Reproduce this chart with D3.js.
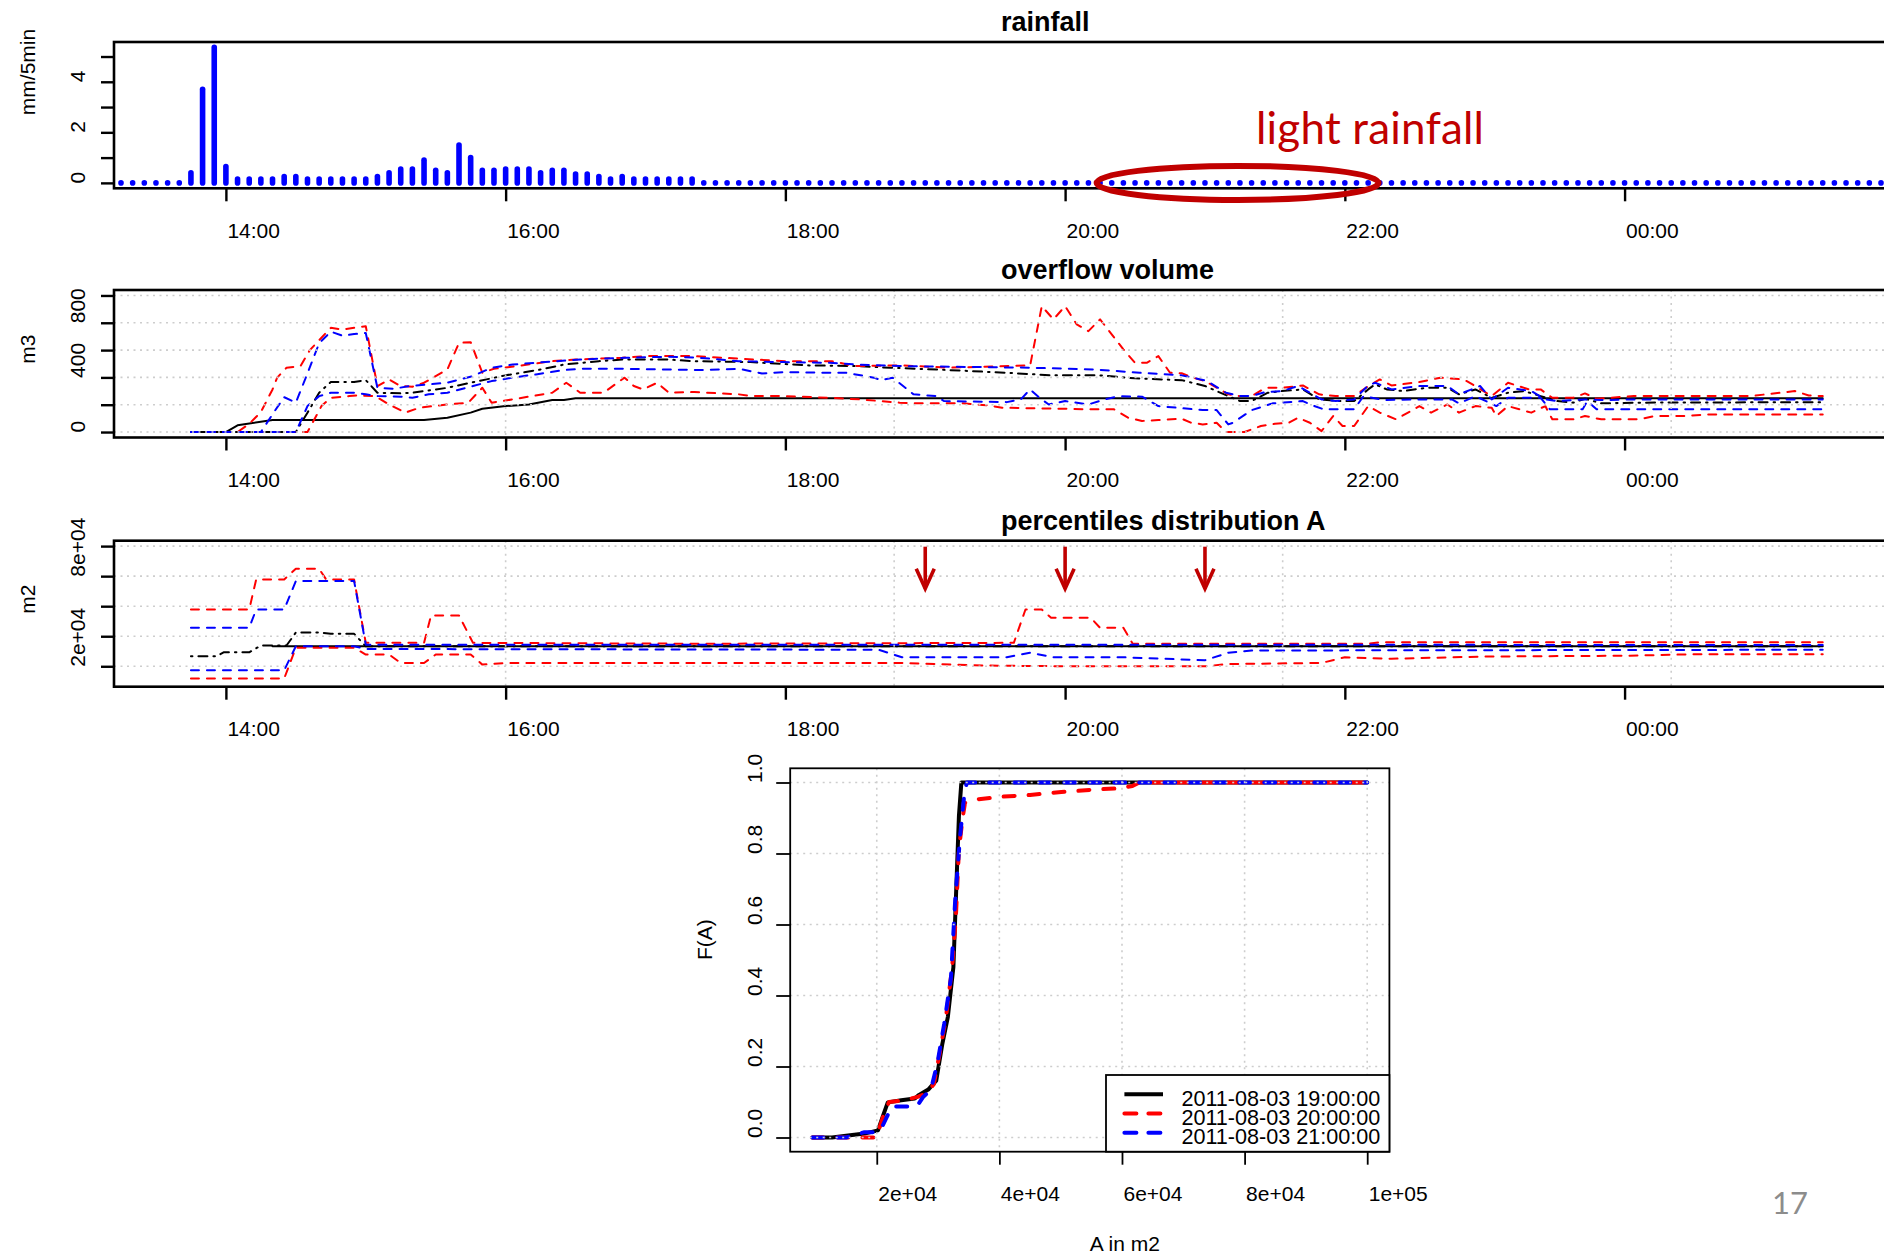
<!DOCTYPE html>
<html>
<head>
<meta charset="utf-8">
<title>Overflow analysis 2011-08-03</title>
<script src="https://cdn.jsdelivr.net/npm/d3@7/dist/d3.min.js"></script>
<style>
  html, body { margin: 0; padding: 0; background: #fff; }
  svg { display: block; }
</style>
</head>
<body>
<svg id="chart" width="1884" height="1257"></svg>
<script>
// ---------------- data ----------------
// rainfall, mm per 5 minutes, first interval at 13:15
const rainStart = "13:15";
const rainfall = [
  0, 0, 0, 0, 0, 0, 0.4, 3.7, 5.36,                                  // 13:15-13:55
  0.65, 0.15, 0.15, 0.15, 0.15, 0.25, 0.25, 0.15, 0.15, 0.15, 0.15, 0.15, // 14:00
  0.15, 0.25, 0.4, 0.55, 0.55, 0.9, 0.5, 0.4, 1.5, 1.0, 0.5, 0.5,        // 15:00
  0.55, 0.55, 0.55, 0.4, 0.5, 0.5, 0.35, 0.35, 0.25, 0.15, 0.25, 0.15,   // 16:00
  0.15, 0.15, 0.15, 0.15, 0.15, 0, 0, 0, 0, 0, 0, 0,                     // 17:00
  0, 0, 0, 0, 0, 0, 0, 0, 0, 0, 0, 0,                                    // 18:00
  0, 0, 0, 0, 0, 0, 0, 0, 0, 0, 0, 0,                                    // 19:00
  0, 0, 0, 0, 0, 0, 0, 0, 0, 0, 0, 0,                                    // 20:00
  0, 0, 0, 0, 0, 0, 0, 0, 0, 0, 0, 0,                                    // 21:00
  0, 0, 0, 0, 0, 0, 0, 0, 0, 0, 0, 0,                                    // 22:00
  0, 0, 0, 0, 0, 0, 0, 0, 0, 0, 0, 0,                                    // 23:00
  0, 0, 0, 0, 0, 0, 0, 0, 0, 0, 0, 0,                                    // 00:00
  0, 0, 0, 0, 0, 0, 0, 0, 0, 0, 0                                        // 01:00-01:50
];

const timeTicks = ["14:00", "16:00", "18:00", "20:00", "22:00", "00:00"];

// overflow volume (m3): [time, value]
const volBlackSolid = [
  ["13:45",0],["14:00",0],["14:05",49],["14:20",88],["15:25",88],["15:35",105],["15:45",142],
  ["15:50",171],["16:00",190],["16:10",202],["16:20",234],["16:25",234],["16:30",248],["01:25",248]
];
const volBlackDashDot = [
  ["13:45",0],["14:30",0],["14:35",142],["14:40",288],["14:45",366],["14:55",366],["15:00",380],
  ["15:05",288],["15:15",283],["15:20",288],["15:35",324],["15:45",361],["16:00",415],["16:15",458],
  ["16:25",494],["16:40",519],["16:50",531],["17:10",531],["17:20",519],["17:45",512],["18:10",488],
  ["18:30",483],["18:45",471],["19:10",454],["19:35",434],["19:55",415],["20:15",415],["20:30",393],
  ["20:50",380],["21:00",337],["21:10",263],["21:15",227],["21:20",227],["21:27",288],["21:33",300],
  ["21:42",312],["21:49",239],["21:57",227],["22:04",227],["22:10",312],["22:13",349],["22:18",312],
  ["22:25",300],["22:35",324],["22:44",324],["22:49",276],["22:56",312],["23:03",251],["23:10",288],
  ["23:17",300],["23:24",263],["23:31",227],["23:38",215],["23:43",244],["23:50",210],["00:05",215],
  ["01:25",219]
];
const volRedUpper = [
  ["13:45",0],["14:05",0],["14:10",60],["14:15",146],["14:20",312],["14:22",398],["14:26",471],
  ["14:32",483],["14:36",600],["14:45",763],["14:50",751],["14:55",763],["15:00",775],["15:05",336],
  ["15:10",385],["15:15",336],["15:20",332],["15:25",361],["15:35",458],["15:40",653],["15:45",658],
  ["15:50",434],["15:55",463],["16:05",483],["16:20",519],["16:30",531],["16:50",544],["17:00",556],
  ["17:20",556],["18:00",519],["18:20",519],["18:30",483],["18:50",488],["19:10",471],["19:45",488],
  ["19:50",922],["19:55",825],["20:00",922],["20:05",788],["20:10",739],["20:15",825],["20:25",605],
  ["20:30",507],["20:35",507],["20:40",556],["20:45",434],["20:50",430],["20:55",398],["21:00",373],
  ["21:10",276],["21:15",263],["21:20",263],["21:26",324],["21:33",324],["21:42",341],["21:49",276],
  ["21:56",263],["22:04",263],["22:10",336],["22:15",385],["22:20",341],["22:32",366],["22:41",398],
  ["22:51",385],["22:56",336],["23:03",263],["23:10",361],["23:19",312],["23:24",312],["23:29",251],
  ["23:38",251],["23:43",283],["23:48",244],["00:04",263],["00:54",263],["01:13",300],["01:19",268],
  ["01:25",263]
];
const volRedLower = [
  ["13:45",0],["14:35",0],["14:41",190],["14:45",251],["14:53",263],["14:56",268],["15:04",263],
  ["15:10",202],["15:17",142],["15:23",178],["15:35",202],["15:44",215],["15:50",324],["15:54",215],
  ["16:03",239],["16:20",288],["16:26",361],["16:32",288],["16:42",288],["16:51",398],["16:55",337],
  ["16:59",312],["17:05",361],["17:10",288],["17:21",293],["17:40",276],["17:46",263],["17:59",263],
  ["18:19",251],["18:32",239],["18:49",215],["18:57",210],["19:16",210],["19:27",195],["19:33",178],
  ["20:13",166],["20:21",166],["20:27",105],["20:33",81],["20:40",88],["20:50",98],["20:54",68],
  ["20:59",56],["21:05",68],["21:09",0],["21:17",0],["21:24",44],["21:30",60],["21:36",68],
  ["21:40",105],["21:45",68],["21:50",7],["21:55",117],["21:59",44],["22:04",44],["22:10",190],
  ["22:15",142],["22:22",93],["22:32",190],["22:37",142],["22:44",202],["22:49",142],["22:56",190],
  ["23:03",178],["23:05",117],["23:10",190],["23:20",142],["23:26",190],["23:29",93],["23:38",93],
  ["23:43",117],["23:50",93],["00:06",93],["00:13",117],["00:26",117],["00:35",129],["01:25",129]
];
const volBlueUpper = [
  ["13:45",0],["14:15",0],["14:20",130],["14:25",255],["14:30",215],["14:35",430],["14:40",650],
  ["14:45",735],["14:50",705],["14:55",717],["15:00",725],["15:05",324],["15:12",317],["15:19",337],
  ["15:27",349],["15:35",361],["15:46",410],["15:54",471],["16:03",494],["16:22",519],["16:32",531],
  ["16:51",544],["17:10",551],["17:23",544],["17:40",519],["17:59",512],["18:19",507],["18:30",495],
  ["18:49",483],["19:12",478],["19:45",471],["20:13",458],["20:32",434],["20:50",415],["20:55",398],
  ["21:01",373],["21:09",288],["21:15",263],["21:20",263],["21:26",293],["21:33",300],["21:40",337],
  ["21:45",288],["21:50",239],["21:56",227],["22:04",239],["22:10",341],["22:13",361],["22:20",312],
  ["22:32",337],["22:44",337],["22:49",276],["22:58",337],["23:03",239],["23:10",324],["23:20",300],
  ["23:26",239],["23:31",227],["23:43",239],["23:50",234],["00:04",239],["01:25",239]
];
const volBlueLower = [
  ["13:45",0],["14:30",0],["14:35",190],["14:40",263],["14:45",288],["14:55",288],["15:00",276],
  ["15:05",263],["15:15",259],["15:20",251],["15:27",276],["15:35",288],["15:46",337],["15:54",373],
  ["16:03",398],["16:13",422],["16:25",454],["16:32",463],["16:51",463],["17:23",454],["17:40",463],
  ["17:50",429],["17:59",439],["18:19",434],["18:26",434],["18:38",398],["18:41",380],["18:46",398],
  ["18:55",276],["19:05",263],["19:08",227],["19:35",219],["19:41",239],["19:45",312],["19:49",251],
  ["19:53",202],["20:00",227],["20:10",202],["20:17",239],["20:23",263],["20:33",259],["20:40",190],
  ["20:59",161],["21:05",161],["21:10",56],["21:12",68],["21:20",160],["21:29",210],["21:42",227],
  ["21:45",202],["21:51",166],["22:04",166],["22:08",263],["22:17",234],["22:29",239],["22:46",239],
  ["22:49",210],["22:56",263],["23:05",190],["23:10",251],["23:24",251],["23:28",166],["23:42",166],
  ["23:44",227],["23:48",166],["01:25",166]
];

// percentiles of flooded area A (m2): [time, value]
const areaBlackSolid = [["14:20",33300],["01:25",33300]];
const areaBlackDashDot = [
  ["13:45",26700],["13:56",26700],["13:59",29300],["14:10",29300],["14:15",33800],["14:26",33800],
  ["14:30",42500],["14:40",42500],["14:45",41600],["14:55",41600],["15:00",33300],["01:25",33300]
];
const areaRedUpper = [
  ["13:45",57800],["14:10",57800],["14:13",77800],["14:25",77800],["14:30",84900],["14:40",84900],
  ["14:43",77800],["14:55",77800],["15:00",35600],["15:25",35600],["15:28",53800],["15:40",53800],
  ["15:46",35600],["17:25",35000],["19:38",35600],["19:43",57800],["19:50",57800],["19:54",52300],
  ["20:11",52300],["20:15",45600],["20:25",45600],["20:29",35000],["22:10",35000],["22:15",36000],
  ["01:25",36000]
];
const areaRedLower = [
  ["13:45",11800],["14:25",11800],["14:30",32400],["14:55",32400],["15:00",27800],["15:10",27800],
  ["15:15",22200],["15:25",22200],["15:30",27800],["15:45",27800],["15:50",21100],["16:00",22200],
  ["18:50",22200],["19:25",20500],["20:00",20000],["21:00",20000],["21:10",21500],["21:50",22200],
  ["22:00",26000],["22:20",25000],["23:00",26500],["00:00",27000],["00:30",28000],["01:25",28000]
];
const areaBlueUpper = [
  ["13:45",45600],["14:10",45600],["14:13",57800],["14:25",57800],["14:30",76700],["14:55",76700],
  ["15:00",34400],["01:25",34200]
];
const areaBlueLower = [
  ["13:45",17300],["14:25",17300],["14:30",33300],["14:55",33300],["15:00",31500],["18:40",31000],
  ["18:50",26000],["19:35",26000],["19:45",29000],["19:55",26000],["20:25",26000],["21:00",24000],
  ["21:10",29000],["21:20",30500],["01:25",31000]
];

// empirical distribution of A at three instants: [A (m2), F(A)]
const cdfTimes = ["19:00", "20:00", "21:00"];
const cdfLabels = ["2011-08-03 19:00:00", "2011-08-03 20:00:00", "2011-08-03 21:00:00"];
const cdf19 = [
  [9500,0],[12700,0],[15000,0.005],[18000,0.011],[20200,0.02],[21000,0.06],[21800,0.099],
  [24000,0.105],[26200,0.11],[26900,0.12],[28400,0.135],[29700,0.16],[30700,0.264],[31600,0.34],
  [32500,0.48],[33000,0.717],[33400,0.905],[33800,1.0],[100000,1.0]
];
const cdf20 = [
  [9500,0],[20000,0],[20200,0.015],[21000,0.057],[22000,0.1],[24500,0.105],[26800,0.115],
  [28100,0.125],[29300,0.15],[30300,0.24],[31300,0.34],[32300,0.48],[32900,0.62],[33400,0.81],
  [34000,0.9],[34400,0.943],[36600,0.953],[40400,0.96],[45000,0.965],[50100,0.973],[55300,0.98],
  [59000,0.983],[61700,0.99],[62800,1.0],[100000,1.0]
];
const cdf21 = [
  [9500,0],[15000,0],[16500,0.008],[18000,0.015],[19500,0.015],[20600,0.02],[21700,0.06],
  [22400,0.087],[26500,0.087],[27600,0.115],[28800,0.133],[29900,0.21],[31000,0.32],[32100,0.45],
  [32800,0.67],[33600,0.85],[34300,0.97],[34700,1.0],[100000,1.0]
];

// ---------------- drawing ----------------
const FONT = "'Liberation Sans', Arial, Helvetica, sans-serif";
const DARKRED = "#c00000";
const GRID = "#cdcdcd";
const svg = d3.select("#chart");

const parseT = s => {
  const [h, m] = s.split(":").map(Number);
  return new Date(2011, 7, h < 12 ? 4 : 3, h, m);
};

const plotLeft = 114, plotRight = 1888;
const x = d3.scaleTime().domain([parseT("13:12"), parseT("01:53")]).range([plotLeft, plotRight]);
// grid() places vertical lines at round numbers of seconds: every 10000 s
const gridTimes = d3.range(parseT("16:00").getTime(), x.domain()[1].getTime(), 1e4 * 1000).map(t => new Date(t));

const sci = v => v.toExponential(0).replace(/e\+(\d)$/, "e+0$1");

function gridLines(g, xs, ys, xScale, yScale, x0, x1, y0, y1) {
  g.selectAll(".gh").data(ys).join("line").attr("class", "gh")
    .attr("x1", x0).attr("x2", x1).attr("y1", d => yScale(d)).attr("y2", d => yScale(d));
  g.selectAll(".gv").data(xs).join("line").attr("class", "gv")
    .attr("x1", d => xScale(d)).attr("x2", d => xScale(d)).attr("y1", y0).attr("y2", y1);
  g.selectAll("line").attr("stroke", GRID).attr("stroke-width", 1.6).attr("stroke-dasharray", "2,4.5");
}

function timePanel(p) {
  const pad = (p.ylim[1] - p.ylim[0]) * 0.04;
  const y = d3.scaleLinear().domain([p.ylim[0] - pad, p.ylim[1] + pad]).range([p.bottom, p.top]);
  const id = "clip" + Math.round(p.top);
  svg.append("clipPath").attr("id", id).append("rect")
    .attr("x", plotLeft).attr("y", p.top).attr("width", plotRight - plotLeft).attr("height", p.bottom - p.top);
  const marks = svg.append("g").attr("clip-path", p.clip ? `url(#${id})` : null);
  const gridG = svg.append("g");
  const frame = svg.append("g");

  if (p.grid) gridLines(gridG, gridTimes, p.yTicks, x, y, plotLeft, plotRight, p.top, p.bottom);

  frame.append("rect").attr("x", plotLeft).attr("y", p.top)
    .attr("width", plotRight - plotLeft).attr("height", p.bottom - p.top)
    .attr("fill", "none").attr("stroke", "#000").attr("stroke-width", 2.6);

  frame.append("g").attr("transform", `translate(0,${p.bottom})`)
    .call(d3.axisBottom(x).tickValues(timeTicks.map(parseT)).tickFormat(d3.timeFormat("%H:%M"))
      .tickSize(13).tickSizeOuter(0))
    .attr("font-family", FONT).attr("font-size", 21)
    .call(a => a.select(".domain").remove())
    .call(a => a.selectAll("line").attr("stroke", "#000").attr("stroke-width", 2.4))
    .call(a => a.selectAll("text").attr("fill", "#000").attr("text-anchor", "start")
      .attr("x", 1).attr("y", 49.3).attr("dy", null));

  frame.append("g").attr("transform", `translate(${plotLeft},0)`)
    .call(d3.axisLeft(y).tickValues(p.yTicks)
      .tickFormat(v => p.yLabels.includes(v) ? p.fmt(v) : "").tickSize(13).tickSizeOuter(0))
    .attr("font-family", FONT).attr("font-size", 21)
    .call(a => a.select(".domain").remove())
    .call(a => a.selectAll("line").attr("stroke", "#000").attr("stroke-width", 2.4))
    .call(a => a.selectAll("text").attr("fill", "#000").attr("transform", "rotate(-90)")
      .attr("text-anchor", "start").attr("x", 0).attr("y", -29).attr("dy", null));

  frame.append("text").attr("x", (plotLeft + plotRight) / 2).attr("y", p.top - 11)
    .attr("font-family", FONT).attr("font-size", 27).attr("font-weight", "bold")
    .attr("text-anchor", "start").text(p.title);

  frame.append("text").attr("transform", `translate(35,${(p.top + p.bottom) / 2}) rotate(-90)`)
    .attr("font-family", FONT).attr("font-size", 21).attr("text-anchor", "start").text(p.ylab);

  return { y, marks, frame, top: p.top, bottom: p.bottom };
}

const styles = {
  solid:   { stroke: "#000", dash: null },
  dashdot: { stroke: "#000", dash: "1.5,6,9,6" },
  red:     { stroke: "#ff0000", dash: "8,8" },
  blue:    { stroke: "#0000ff", dash: "8,8" }
};

function drawSeries(panel, series, style, width) {
  const line = d3.line().x(d => x(parseT(d[0]))).y(d => panel.y(d[1]));
  panel.marks.append("path").datum(series).attr("d", line)
    .attr("fill", "none").attr("stroke", style.stroke).attr("stroke-width", width)
    .attr("stroke-dasharray", style.dash).attr("stroke-linecap", "round").attr("stroke-linejoin", "round");
}

// ---- panel 1: rainfall ----
const p1 = timePanel({
  top: 42, bottom: 188.3, title: "rainfall", ylab: "mm/5min",
  ylim: [0, d3.max(rainfall)], yTicks: [0, 1, 2, 3, 4, 5], yLabels: [0, 2, 4], fmt: d3.format("d"),
  grid: false, clip: false
});
const t0 = parseT(rainStart);
p1.marks.selectAll("line").data(rainfall).join("line")
  .attr("x1", (d, i) => x(d3.timeMinute.offset(t0, 5 * i)))
  .attr("x2", (d, i) => x(d3.timeMinute.offset(t0, 5 * i)))
  .attr("y1", p1.y(0)).attr("y2", d => p1.y(d))
  .attr("stroke", "#0000ff").attr("stroke-width", 5.6).attr("stroke-linecap", "round");

// "light rainfall" annotation
p1.frame.append("ellipse")
  .attr("cx", x(parseT("21:14"))).attr("cy", p1.y(0)).attr("rx", 141).attr("ry", 17)
  .attr("fill", "none").attr("stroke", DARKRED).attr("stroke-width", 6);
p1.frame.append("text").attr("x", 1256).attr("y", 144)
  .attr("font-family", "Lato, 'Open Sans', sans-serif").attr("font-size", 44)
  .attr("textLength", 228).attr("fill", DARKRED).text("light rainfall");

// ---- panel 2: overflow volume ----
const p2 = timePanel({
  top: 290, bottom: 437.5, title: "overflow volume", ylab: "m3",
  ylim: [0, 1000], yTicks: [0, 200, 400, 600, 800, 1000], yLabels: [0, 400, 800], fmt: d3.format("d"),
  grid: true, clip: true
});
drawSeries(p2, volBlackSolid, styles.solid, 2);
drawSeries(p2, volBlackDashDot, styles.dashdot, 2);
drawSeries(p2, volRedUpper, styles.red, 2);
drawSeries(p2, volRedLower, styles.red, 2);
drawSeries(p2, volBlueUpper, styles.blue, 2);
drawSeries(p2, volBlueLower, styles.blue, 2);

// ---- panel 3: percentiles of A ----
const p3 = timePanel({
  top: 540.7, bottom: 686.7, title: "percentiles distribution A", ylab: "m2",
  ylim: [10000, 100000], yTicks: [20000, 40000, 60000, 80000, 100000], yLabels: [20000, 80000], fmt: sci,
  grid: true, clip: true
});
drawSeries(p3, areaBlackSolid, styles.solid, 2);
drawSeries(p3, areaBlackDashDot, styles.dashdot, 2);
drawSeries(p3, areaRedUpper, styles.red, 2);
drawSeries(p3, areaRedLower, styles.red, 2);
drawSeries(p3, areaBlueUpper, styles.blue, 2);
drawSeries(p3, areaBlueLower, styles.blue, 2);

// arrows marking the instants of the distributions below
const arrows = p3.frame.selectAll(".arrow").data(cdfTimes).join("g").attr("class", "arrow")
  .attr("transform", d => `translate(${x(parseT(d))},${p3.top})`)
  .attr("stroke", DARKRED).attr("stroke-width", 3.6).attr("fill", "none")
  .attr("stroke-linecap", "butt").attr("stroke-linejoin", "miter");
arrows.append("line").attr("x1", 0).attr("x2", 0).attr("y1", 6).attr("y2", 48);
arrows.append("path").attr("d", "M-9,28 L0,48 L9,28");

// ---- panel 4: distribution of A ----
const cLeft = 790.2, cRight = 1389.4, cTop = 768.3, cBottom = 1151.7;
const cLim = [d3.min([cdf19, cdf20, cdf21].flat(), d => d[0]), d3.max([cdf19, cdf20, cdf21].flat(), d => d[0])];
const cPad = (cLim[1] - cLim[0]) * 0.04;
const cx = d3.scaleLinear().domain([cLim[0] - cPad, cLim[1] + cPad]).range([cLeft, cRight]);
const cy = d3.scaleLinear().domain([-0.04, 1.04]).range([cBottom, cTop]);
const cxTicks = [20000, 40000, 60000, 80000, 100000];
const cyTicks = [0, 0.2, 0.4, 0.6, 0.8, 1.0];

const cMarks = svg.append("g");
const cdfStyles = [
  { data: cdf19, stroke: "#000", dash: null },
  { data: cdf20, stroke: "#ff0000", dash: "11,14" },
  { data: cdf21, stroke: "#0000ff", dash: "11,14" }
];
const cLine = d3.line().x(d => cx(d[0])).y(d => cy(d[1]));
cdfStyles.forEach(s => {
  cMarks.append("path").datum(s.data).attr("d", cLine).attr("fill", "none")
    .attr("stroke", s.stroke).attr("stroke-width", 4).attr("stroke-dasharray", s.dash)
    .attr("stroke-linecap", "round").attr("stroke-linejoin", "round");
});
gridLines(svg.append("g"), cxTicks, cyTicks, cx, cy, cLeft, cRight, cTop, cBottom);

const cFrame = svg.append("g");
cFrame.append("rect").attr("x", cLeft).attr("y", cTop).attr("width", cRight - cLeft).attr("height", cBottom - cTop)
  .attr("fill", "none").attr("stroke", "#000").attr("stroke-width", 1.8);
cFrame.append("g").attr("transform", `translate(0,${cBottom})`)
  .call(d3.axisBottom(cx).tickValues(cxTicks).tickFormat(sci).tickSize(13).tickSizeOuter(0))
  .attr("font-family", FONT).attr("font-size", 21)
  .call(a => a.select(".domain").remove())
  .call(a => a.selectAll("line").attr("stroke", "#000").attr("stroke-width", 1.8))
  .call(a => a.selectAll("text").attr("fill", "#000").attr("text-anchor", "start")
    .attr("x", 1).attr("y", 49).attr("dy", null));
cFrame.append("g").attr("transform", `translate(${cLeft},0)`)
  .call(d3.axisLeft(cy).tickValues(cyTicks).tickFormat(d3.format(".1f")).tickSize(14).tickSizeOuter(0))
  .attr("font-family", FONT).attr("font-size", 21)
  .call(a => a.select(".domain").remove())
  .call(a => a.selectAll("line").attr("stroke", "#000").attr("stroke-width", 1.8))
  .call(a => a.selectAll("text").attr("fill", "#000").attr("transform", "rotate(-90)")
    .attr("text-anchor", "start").attr("x", 0).attr("y", -28).attr("dy", null));
cFrame.append("text").attr("x", (cLeft + cRight) / 2).attr("y", 1251)
  .attr("font-family", FONT).attr("font-size", 21).attr("text-anchor", "start").text("A in m2");
cFrame.append("text").attr("transform", `translate(712,${(cTop + cBottom) / 2}) rotate(-90)`)
  .attr("font-family", FONT).attr("font-size", 21).attr("text-anchor", "start").text("F(A)");

// legend, bottom right corner
const lgW = 283.4, lgH = 76.7;
const lg = cFrame.append("g").attr("transform", `translate(${cRight - lgW},${cBottom - lgH})`);
lg.append("rect").attr("width", lgW).attr("height", lgH).attr("fill", "#fff")
  .attr("stroke", "#000").attr("stroke-width", 1.8);
cdfStyles.forEach((s, i) => {
  const row = lg.append("g").attr("transform", `translate(0,${19.3 + i * 19.2})`);
  row.append("line").attr("x1", 18.4).attr("x2", 57).attr("stroke", s.stroke).attr("stroke-width", 4)
    .attr("stroke-dasharray", s.dash ? "12,12" : null).attr("stroke-linecap", s.dash ? "round" : "butt");
  row.append("text").attr("x", 75.4).attr("y", 11.5).attr("font-family", FONT).attr("font-size", 21.6)
    .text(cdfLabels[i]);
});

// slide number
svg.append("text").attr("x", 1772).attr("y", 1214).attr("font-family", "Lato, 'Open Sans', sans-serif")
  .attr("font-size", 31).attr("fill", "#8c8c8c").text("17");
</script>
</body>
</html>
